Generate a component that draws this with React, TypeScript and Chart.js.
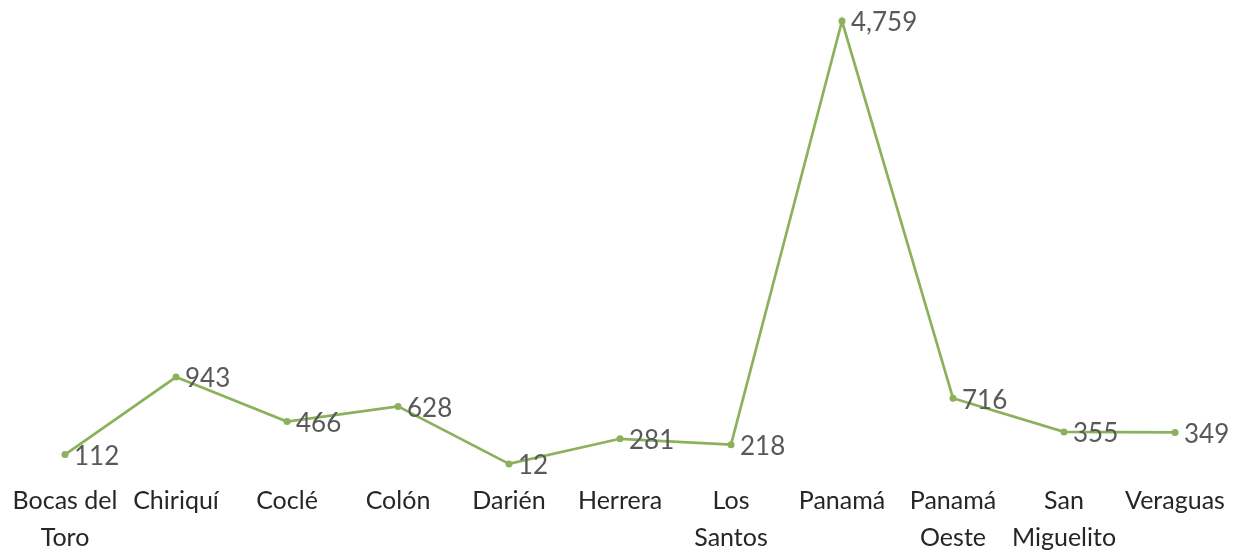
import React, { useEffect, useRef } from "react";
import { Chart, registerables } from "chart.js";

Chart.register(...registerables);

const categories: (string | string[])[] = [
  ["Bocas del", "Toro"],
  "Chiriquí",
  "Coclé",
  "Colón",
  "Darién",
  "Herrera",
  ["Los", "Santos"],
  "Panamá",
  ["Panamá", "Oeste"],
  ["San", "Miguelito"],
  "Veraguas",
];
const values: number[] = [112, 943, 466, 628, 12, 281, 218, 4759, 716, 355, 349];

const LINE_COLOR = "#8cb15c";
const FONT = "Lato, 'Open Sans', sans-serif";

const dataLabelPlugin = {
  id: "dataLabels",
  afterDatasetsDraw(chart: any) {
    const ctx = chart.ctx;
    const meta = chart.getDatasetMeta(0);
    ctx.save();
    ctx.font = `26px ${FONT}`;
    ctx.fillStyle = "#595959";
    ctx.textAlign = "left";
    ctx.textBaseline = "middle";
    meta.data.forEach((pt: any, i: number) => {
      const v = chart.data.datasets[0].data[i] as number;
      ctx.fillText(v.toLocaleString("en-US"), pt.x + 9, pt.y + 2);
    });
    ctx.restore();
  },
};

export default function App() {
  const ref = useRef<HTMLCanvasElement | null>(null);
  useEffect(() => {
    if (!ref.current) return;
    const chart = new Chart(ref.current, {
      type: "line",
      data: {
        labels: categories,
        datasets: [
          {
            data: values,
            borderColor: LINE_COLOR,
            backgroundColor: LINE_COLOR,
            borderWidth: 2.7,
            pointRadius: 3.5,
            pointBackgroundColor: LINE_COLOR,
            pointBorderWidth: 0,
            tension: 0,
            clip: false as any,
          },
        ],
      },
      options: {
        animation: false,
        responsive: true,
        maintainAspectRatio: false,
        layout: { padding: { left: 9.5, right: 7.5, top: 21, bottom: 0 } },
        plugins: { legend: { display: false }, tooltip: { enabled: false } },
        scales: {
          x: {
            offset: true,
            grid: { display: false, drawTicks: false },
            border: { display: false },
            afterFit: (scale: any) => {
              scale.paddingLeft = 0;
              scale.paddingRight = 0;
            },
            ticks: {
              autoSkip: false,
              maxRotation: 0,
              minRotation: 0,
              padding: 17,
              color: "#262626",
              font: { family: FONT, size: 25, lineHeight: 37 / 25 },
            },
          },
          y: {
            display: false,
            min: 0,
            max: Math.max(...values),
          },
        },
      },
      plugins: [dataLabelPlugin],
    });
    return () => chart.destroy();
  }, []);
  return (
    <div style={{ position: "fixed", left: 0, top: 0, width: 1238, height: 552, overflow: "hidden", background: "#fff" }}>
      <div style={{ position: "relative", width: 1238, height: 573 }}>
        <canvas ref={ref} />
      </div>
    </div>
  );
}
